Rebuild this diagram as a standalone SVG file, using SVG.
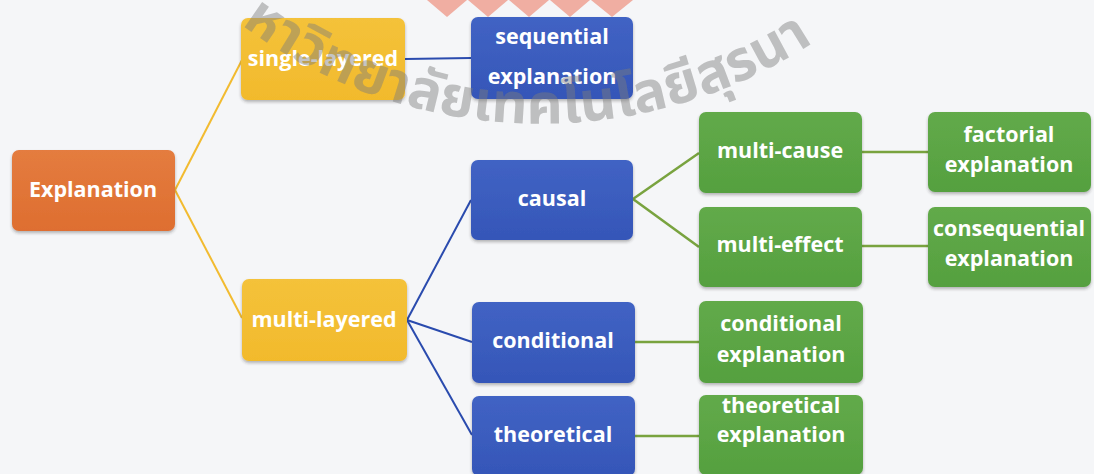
<svg xmlns="http://www.w3.org/2000/svg" width="1094" height="474" viewBox="0 0 1094 474">
<defs>
<style>
.lbl{font-family:"Open Sans","Liberation Sans",sans-serif;font-weight:700;font-size:21.5px;fill:#ffffff;text-anchor:middle}
.or{fill:url(#gOr)}
.ye{fill:url(#gYe)}
.bl{fill:url(#gBl)}
.gr{fill:url(#gGr)}
.box{filter:url(#sh)}
.cy{stroke:#F2BB30;stroke-width:2;fill:none}
.cb{stroke:#2A4BAE;stroke-width:2;fill:none}
.cg{stroke:#79A33F;stroke-width:2.5;fill:none}
.wm{font-family:"Noto Sans Thai","Noto Sans","DejaVu Sans",sans-serif;font-weight:700;font-size:56px;fill:#7d7d7d;fill-opacity:0.45}
</style>
<linearGradient id="gOr" x1="0" y1="0" x2="0" y2="1"><stop offset="0" stop-color="#E47C3F"/><stop offset="1" stop-color="#DE6E30"/></linearGradient>
<linearGradient id="gYe" x1="0" y1="0" x2="0" y2="1"><stop offset="0" stop-color="#F4C23A"/><stop offset="1" stop-color="#F2BA2C"/></linearGradient>
<linearGradient id="gBl" x1="0" y1="0" x2="0" y2="1"><stop offset="0" stop-color="#4163C4"/><stop offset="1" stop-color="#3556B8"/></linearGradient>
<linearGradient id="gGr" x1="0" y1="0" x2="0" y2="1"><stop offset="0" stop-color="#62AA4A"/><stop offset="1" stop-color="#55A03F"/></linearGradient>
<filter id="sh" x="-10%" y="-10%" width="120%" height="130%"><feDropShadow dx="0" dy="2" stdDeviation="1.5" flood-color="#333" flood-opacity="0.35"/></filter>
<path id="arc" d="M 225 12 A 500 500 0 0 0 855 12"/>
</defs>
<rect x="0" y="0" width="1094" height="474" fill="#F5F6F8"/>
<g id="logo" fill="#F0AEA2">
<polygon points="427,0 467,0 447,17"/>
<polygon points="468,0 508,0 488,17"/>
<polygon points="509,0 549,0 529,17"/>
<polygon points="550,0 590,0 570,17"/>
<polygon points="591,0 633,0 612,17"/>
</g>
<g id="connectors">
<line class="cy" x1="175" y1="190" x2="242" y2="60"/>
<line class="cy" x1="175" y1="190" x2="242" y2="318"/>
<line class="cb" x1="405" y1="59" x2="471" y2="58"/>
<line class="cb" x1="407" y1="320" x2="471" y2="200"/>
<line class="cb" x1="407" y1="320" x2="472" y2="342"/>
<line class="cb" x1="407" y1="320" x2="472" y2="435"/>
<line class="cg" x1="633" y1="199" x2="699" y2="153"/>
<line class="cg" x1="633" y1="199" x2="699" y2="247"/>
<line class="cg" x1="862" y1="152" x2="928" y2="152"/>
<line class="cg" x1="862" y1="246" x2="928" y2="246"/>
<line class="cg" x1="634" y1="342" x2="699" y2="342"/>
<line class="cg" x1="634" y1="436" x2="699" y2="436"/>
</g>
<g id="n-explanation"><rect class="box or" x="12" y="150" width="163" height="81" rx="7"/><text class="lbl" x="93" y="197">Explanation</text></g>
<g id="n-single"><rect class="box ye" x="241" y="18" width="164" height="82" rx="7"/><text class="lbl" x="323" y="66">single-layered</text></g>
<g id="n-multi"><rect class="box ye" x="242" y="279" width="165" height="82" rx="7"/><text class="lbl" x="324" y="327">multi-layered</text></g>
<g id="n-sequential"><rect class="box bl" x="471" y="17" width="162" height="82" rx="7"/><text class="lbl" x="552" y="44">sequential</text><text class="lbl" x="552" y="84">explanation</text></g>
<g id="n-causal"><rect class="box bl" x="471" y="160" width="162" height="80" rx="7"/><text class="lbl" x="552" y="206">causal</text></g>
<g id="n-conditional"><rect class="box bl" x="472" y="302" width="163" height="81" rx="7"/><text class="lbl" x="553" y="348">conditional</text></g>
<g id="n-theoretical"><rect class="box bl" x="472" y="396" width="163" height="80" rx="7"/><text class="lbl" x="553" y="442">theoretical</text></g>
<g id="n-multicause"><rect class="box gr" x="699" y="112" width="163" height="81" rx="7"/><text class="lbl" x="780" y="158">multi-cause</text></g>
<g id="n-multieffect"><rect class="box gr" x="699" y="207" width="163" height="80" rx="7"/><text class="lbl" x="780" y="252">multi-effect</text></g>
<g id="n-condexp"><rect class="box gr" x="699" y="301" width="164" height="82" rx="7"/><text class="lbl" x="781" y="331">conditional</text><text class="lbl" x="781" y="362">explanation</text></g>
<g id="n-theoexp"><rect class="box gr" x="699" y="395" width="164" height="80" rx="7"/><text class="lbl" x="781" y="413">theoretical</text><text class="lbl" x="781" y="442">explanation</text></g>
<g id="n-factorial"><rect class="box gr" x="928" y="112" width="163" height="80" rx="7"/><text class="lbl" x="1009" y="142">factorial</text><text class="lbl" x="1009" y="172">explanation</text></g>
<g id="n-consequential"><rect class="box gr" x="928" y="207" width="163" height="80" rx="7"/><text class="lbl" x="1009" y="236">consequential</text><text class="lbl" x="1009" y="266">explanation</text></g>
<g id="watermark"><text class="wm"><textPath href="#arc" startOffset="3%">หาวิทยาลัยเทคโนโลยีสุรนา</textPath></text></g>
</svg>
